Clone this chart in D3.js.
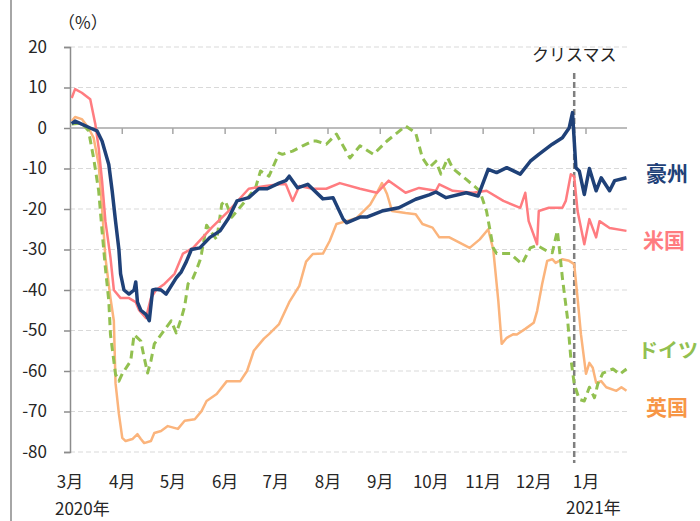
<!DOCTYPE html>
<html lang="ja">
<head>
<meta charset="UTF-8">
<script src="https://d3js.org/d3.v7.min.js"></script>
<style>
  body { margin: 0; background: #fff; }
  text { font-family: "Noto Sans CJK JP", "Noto Sans", sans-serif; fill: #262626; }
</style>
</head>
<body>
<script>
// y-axis ticks and month labels
const yTicks = [20, 10, 0, -10, -20, -30, -40, -50, -60, -70, -80];
const monthLabels = ["3月", "4月", "5月", "6月", "7月", "8月", "9月", "10月", "11月", "12月", "1月"];
const monthStarts = ["2020-03-01", "2020-04-01", "2020-05-01", "2020-06-01", "2020-07-01", "2020-08-01",
                     "2020-09-01", "2020-10-01", "2020-11-01", "2020-12-01", "2021-01-01"];
const christmas = "2020-12-25";

// series, [date, % change]
const australia = [
  ["2020-03-02", 1.1], ["2020-03-04", 1.7], ["2020-03-13", 0], ["2020-03-17", -0.7], ["2020-03-20", -3.2],
  ["2020-03-24", -9], ["2020-03-26", -15.5], ["2020-03-28", -23], ["2020-03-30", -30], ["2020-03-31", -36],
  ["2020-04-02", -40], ["2020-04-05", -41], ["2020-04-08", -40], ["2020-04-09", -38], ["2020-04-10", -43],
  ["2020-04-12", -45], ["2020-04-15", -46], ["2020-04-17", -47.6], ["2020-04-19", -40], ["2020-04-21", -39.8],
  ["2020-04-24", -40], ["2020-04-27", -41], ["2020-05-03", -37], ["2020-05-06", -35.5], ["2020-05-09", -33],
  ["2020-05-12", -30], ["2020-05-17", -29.6], ["2020-05-23", -27], ["2020-05-29", -25.4], ["2020-06-03", -22.3],
  ["2020-06-08", -18], ["2020-06-15", -17.2], ["2020-06-21", -15], ["2020-06-26", -15], ["2020-07-03", -13.6],
  ["2020-07-07", -13], ["2020-07-09", -11.9], ["2020-07-14", -14.8], ["2020-07-20", -13.9], ["2020-07-29", -17.5],
  ["2020-08-04", -17.2], ["2020-08-10", -22.5], ["2020-08-12", -23.4], ["2020-08-20", -22], ["2020-08-24", -22],
  ["2020-09-02", -20.5], ["2020-09-12", -19.7], ["2020-09-22", -17.6], ["2020-09-30", -16.5], ["2020-10-04", -15.8],
  ["2020-10-10", -17.2], ["2020-10-22", -16], ["2020-10-29", -16.8], ["2020-11-04", -10.2], ["2020-11-09", -11],
  ["2020-11-15", -9.8], ["2020-11-23", -11.4], ["2020-11-29", -8.2], ["2020-12-04", -6.5], ["2020-12-12", -4],
  ["2020-12-18", -2.4], ["2020-12-22", 0], ["2020-12-24", 3.8], ["2020-12-26", -9.8], ["2020-12-28", -10.6],
  ["2020-12-31", -16.4], ["2021-01-03", -10], ["2021-01-07", -15.5], ["2021-01-10", -12.3], ["2021-01-15", -15.5],
  ["2021-01-18", -13], ["2021-01-25", -12.3]
];
const usa = [
  ["2020-03-02", 7.4], ["2020-03-04", 9.6], ["2020-03-08", 8.7], ["2020-03-13", 7.1], ["2020-03-16", 1],
  ["2020-03-18", -4.9], ["2020-03-20", -13], ["2020-03-22", -23], ["2020-03-25", -32], ["2020-03-27", -40],
  ["2020-03-31", -42], ["2020-04-05", -42], ["2020-04-09", -43], ["2020-04-11", -45], ["2020-04-15", -46.9],
  ["2020-04-18", -42], ["2020-04-21", -40], ["2020-04-26", -38.5], ["2020-05-02", -36], ["2020-05-07", -31],
  ["2020-05-13", -29.6], ["2020-05-24", -24.6], ["2020-06-03", -20.5], ["2020-06-15", -15], ["2020-06-25", -14.3],
  ["2020-07-03", -13.9], ["2020-07-07", -13.9], ["2020-07-11", -18], ["2020-07-15", -14.3], ["2020-07-23", -15],
  ["2020-07-31", -15], ["2020-08-08", -13.6], ["2020-08-20", -15], ["2020-08-30", -16], ["2020-09-06", -13],
  ["2020-09-16", -16], ["2020-09-24", -14.8], ["2020-10-04", -15.5], ["2020-10-06", -13.9], ["2020-10-14", -15.5],
  ["2020-10-26", -16], ["2020-11-03", -15.5], ["2020-11-13", -18], ["2020-11-23", -19.7], ["2020-11-26", -16],
  ["2020-11-28", -23], ["2020-12-03", -28.7], ["2020-12-04", -20.5], ["2020-12-10", -19.7], ["2020-12-18", -19.7],
  ["2020-12-20", -18], ["2020-12-23", -11.4], ["2020-12-25", -12], ["2020-12-27", -20.5], ["2020-12-31", -28.7],
  ["2021-01-03", -22.5], ["2021-01-07", -27], ["2021-01-09", -23], ["2021-01-15", -24.7], ["2021-01-25", -25.4]
];
const germany = [
  ["2020-03-02", 1], ["2020-03-08", 1.2], ["2020-03-12", -0.7], ["2020-03-15", -7.4], ["2020-03-18", -15.5],
  ["2020-03-20", -25.4], ["2020-03-22", -34.6], ["2020-03-24", -42.7], ["2020-03-25", -51], ["2020-03-28", -60.8],
  ["2020-03-30", -62.5], ["2020-04-01", -60.7], ["2020-04-06", -57.5], ["2020-04-08", -51], ["2020-04-12", -52.6],
  ["2020-04-14", -56.7], ["2020-04-16", -60.5], ["2020-04-18", -57.5], ["2020-04-20", -53.3], ["2020-04-24", -51],
  ["2020-04-30", -47.6], ["2020-05-03", -50.6], ["2020-05-06", -47], ["2020-05-08", -44], ["2020-05-10", -38.5],
  ["2020-05-13", -37], ["2020-05-15", -35], ["2020-05-17", -32.8], ["2020-05-18", -31], ["2020-05-21", -24],
  ["2020-05-27", -27.6], ["2020-05-30", -18.8], ["2020-06-01", -18], ["2020-06-05", -22], ["2020-06-07", -21],
  ["2020-06-13", -18], ["2020-06-19", -14.8], ["2020-06-22", -10.6], ["2020-06-27", -11.9], ["2020-07-03", -6.2],
  ["2020-07-05", -6.5], ["2020-07-11", -5.7], ["2020-07-17", -4.4], ["2020-07-23", -3.2], ["2020-07-25", -3.2],
  ["2020-07-31", -4], ["2020-08-06", -1.5], ["2020-08-14", -7.4], ["2020-08-20", -4.4], ["2020-08-28", -6.5],
  ["2020-09-05", -3.2], ["2020-09-11", -1.2], ["2020-09-16", 0.5], ["2020-09-22", -1.2], ["2020-09-26", -7.4],
  ["2020-09-30", -9.8], ["2020-10-04", -8.2], ["2020-10-07", -11.4], ["2020-10-11", -7.4], ["2020-10-14", -10],
  ["2020-10-22", -12.7], ["2020-10-30", -15.5], ["2020-11-03", -20.5], ["2020-11-07", -29.6], ["2020-11-09", -31],
  ["2020-11-17", -31], ["2020-11-24", -33.6], ["2020-11-29", -29.6], ["2020-12-03", -29], ["2020-12-09", -30.4],
  ["2020-12-12", -30.8], ["2020-12-15", -25.4], ["2020-12-16", -29], ["2020-12-18", -37], ["2020-12-21", -46.9],
  ["2020-12-23", -56.8], ["2020-12-25", -63.2], ["2020-12-28", -67], ["2020-12-31", -67.4], ["2021-01-03", -64],
  ["2021-01-06", -66.6], ["2021-01-08", -63.2], ["2021-01-11", -60.5], ["2021-01-17", -59.5], ["2021-01-21", -60.8],
  ["2021-01-25", -59.5]
];
const uk = [
  ["2020-03-02", 1.7], ["2020-03-04", 2.7], ["2020-03-08", 2.2], ["2020-03-12", 0], ["2020-03-15", -2.4],
  ["2020-03-18", -9], ["2020-03-20", -19.7], ["2020-03-22", -32], ["2020-03-25", -42], ["2020-03-27", -47.6],
  ["2020-03-28", -63], ["2020-03-30", -70.6], ["2020-04-01", -76.5], ["2020-04-03", -77.3], ["2020-04-07", -76.8],
  ["2020-04-10", -75.6], ["2020-04-12", -76.8], ["2020-04-14", -77.8], ["2020-04-18", -77.3], ["2020-04-20", -75.3],
  ["2020-04-24", -74.8], ["2020-04-28", -73.6], ["2020-05-04", -74.3], ["2020-05-08", -72.3], ["2020-05-14", -71.9],
  ["2020-05-18", -69.9], ["2020-05-21", -67.4], ["2020-05-27", -65.7], ["2020-06-02", -62.5], ["2020-06-10", -62.5],
  ["2020-06-14", -60], ["2020-06-18", -55], ["2020-06-24", -52], ["2020-06-27", -50.9], ["2020-07-03", -48.4],
  ["2020-07-09", -43], ["2020-07-15", -39], ["2020-07-19", -33], ["2020-07-23", -31.1], ["2020-07-29", -31],
  ["2020-08-02", -27.9], ["2020-08-06", -23.7], ["2020-08-12", -23], ["2020-08-18", -22.2], ["2020-08-26", -18.9],
  ["2020-08-30", -16], ["2020-09-02", -13.6], ["2020-09-05", -16.3], ["2020-09-08", -20.5], ["2020-09-16", -21],
  ["2020-09-22", -21.3], ["2020-09-26", -23.7], ["2020-10-02", -24.6], ["2020-10-06", -27], ["2020-10-12", -27],
  ["2020-10-18", -28.3], ["2020-10-24", -29.6], ["2020-10-30", -27.5], ["2020-11-04", -25], ["2020-11-07", -30],
  ["2020-11-10", -42.7], ["2020-11-12", -53.3], ["2020-11-15", -51.8], ["2020-11-19", -50.9], ["2020-11-21", -51],
  ["2020-11-26", -49.6], ["2020-12-01", -48.1], ["2020-12-03", -45.2], ["2020-12-06", -38.5], ["2020-12-09", -32.8],
  ["2020-12-12", -32.4], ["2020-12-14", -33.3], ["2020-12-18", -32.4], ["2020-12-22", -32.8], ["2020-12-25", -33.6],
  ["2020-12-27", -42], ["2020-12-29", -50.9], ["2021-01-01", -60.7], ["2021-01-03", -58], ["2021-01-05", -59.2],
  ["2021-01-07", -62.9], ["2021-01-10", -62.5], ["2021-01-13", -64], ["2021-01-19", -64.9], ["2021-01-22", -64],
  ["2021-01-25", -64.9]
];

const parse = d3.timeParse("%Y-%m-%d");
const width = 700, height = 521;
const plotLeft = 70, plotRight = 627, plotTop = 47, plotBottom = 452;

const svg = d3.select("body").append("svg")
  .attr("width", width)
  .attr("height", height);

const x = d3.scaleTime()
  .domain([parse("2020-03-01"), parse("2021-01-01")])
  .range([plotLeft, 586]);
const y = d3.scaleLinear().domain([-80, 20]).range([plotBottom, plotTop]);

// frame edge on the left
svg.append("line")
  .attr("x1", 11).attr("x2", 11).attr("y1", 0).attr("y2", height)
  .attr("stroke", "#a6a6a6").attr("stroke-width", 2);

// grid
svg.append("g").selectAll("line")
  .data(yTicks.filter(d => d !== 0))
  .join("line")
  .attr("x1", plotLeft).attr("x2", plotRight)
  .attr("y1", d => y(d)).attr("y2", d => y(d))
  .attr("stroke", "#d9d9d9").attr("stroke-width", 1)
  .attr("stroke-dasharray", "5,3");

// y axis
const yAxis = svg.append("g")
  .attr("transform", `translate(${plotLeft},0)`)
  .call(d3.axisLeft(y).tickValues(yTicks).tickSize(6).tickPadding(17));
yAxis.select(".domain").attr("stroke", "#8c8c8c").attr("stroke-width", 1.5);
yAxis.selectAll(".tick line").attr("stroke", "#8c8c8c").attr("stroke-width", 1.5);
yAxis.selectAll(".tick text")
  .attr("font-size", 17).attr("fill", "#262626")
  .attr("font-family", "'Noto Sans', sans-serif")
  .text(d => d < 0 ? "-" + Math.abs(d) : d);

// zero line with month ticks
svg.append("line")
  .attr("x1", plotLeft).attr("x2", plotRight)
  .attr("y1", y(0)).attr("y2", y(0))
  .attr("stroke", "#a6a6a6").attr("stroke-width", 1.5);
svg.append("g").selectAll("line")
  .data(monthStarts.slice(1))
  .join("line")
  .attr("x1", d => x(parse(d))).attr("x2", d => x(parse(d)))
  .attr("y1", y(0)).attr("y2", y(0) + 6)
  .attr("stroke", "#a6a6a6").attr("stroke-width", 1.5);

// month labels
svg.append("g").selectAll("text")
  .data(monthLabels)
  .join("text")
  .attr("x", (d, i) => x(parse(monthStarts[i])))
  .attr("y", 488)
  .attr("text-anchor", "middle")
  .attr("font-size", 17)
  .text(d => d);

svg.append("text").attr("x", 55).attr("y", 515).attr("font-size", 17).text("2020年");
svg.append("text").attr("x", 566).attr("y", 514).attr("font-size", 17).text("2021年");
svg.append("text").attr("x", 58).attr("y", 29).attr("font-size", 17).text("（%）");

// christmas marker
const cx = x(parse(christmas));
svg.append("line")
  .attr("x1", cx).attr("x2", cx).attr("y1", 73).attr("y2", 463)
  .attr("stroke", "#7f7f7f").attr("stroke-width", 2.5)
  .attr("stroke-dasharray", "6,3");
svg.append("text").attr("x", cx).attr("y", 61)
  .attr("text-anchor", "middle").attr("font-size", 17).text("クリスマス");

// lines
const line = d3.line()
  .x(d => x(parse(d[0])))
  .y(d => y(d[1]));

const series = [
  { name: "英国", data: uk, color: "#fbb47c", width: 2.5, dash: null, label: "#f79646", ly: 415, lx: 646, fs: 21 },
  { name: "ドイツ", data: germany, color: "#92c050", width: 3, dash: "8,5", label: "#92c050", ly: 358, lx: 638, fs: 20 },
  { name: "米国", data: usa, color: "#ff7c80", width: 2.5, dash: null, label: "#ff7c80", ly: 248, lx: 643, fs: 21 },
  { name: "豪州", data: australia, color: "#1f4178", width: 3.5, dash: null, label: "#1f4178", ly: 181, lx: 646, fs: 21 }
];

svg.append("g").selectAll("path")
  .data(series)
  .join("path")
  .attr("d", d => line(d.data))
  .attr("fill", "none")
  .attr("stroke", d => d.color)
  .attr("stroke-width", d => d.width)
  .attr("stroke-dasharray", d => d.dash)
  .attr("stroke-linejoin", "round");

svg.append("g").selectAll("text")
  .data(series)
  .join("text")
  .attr("x", d => d.lx)
  .attr("y", d => d.ly)
  .attr("font-size", d => d.fs)
  .attr("font-weight", "bold")
  .style("fill", d => d.label)
  .text(d => d.name);
</script>
</body>
</html>
